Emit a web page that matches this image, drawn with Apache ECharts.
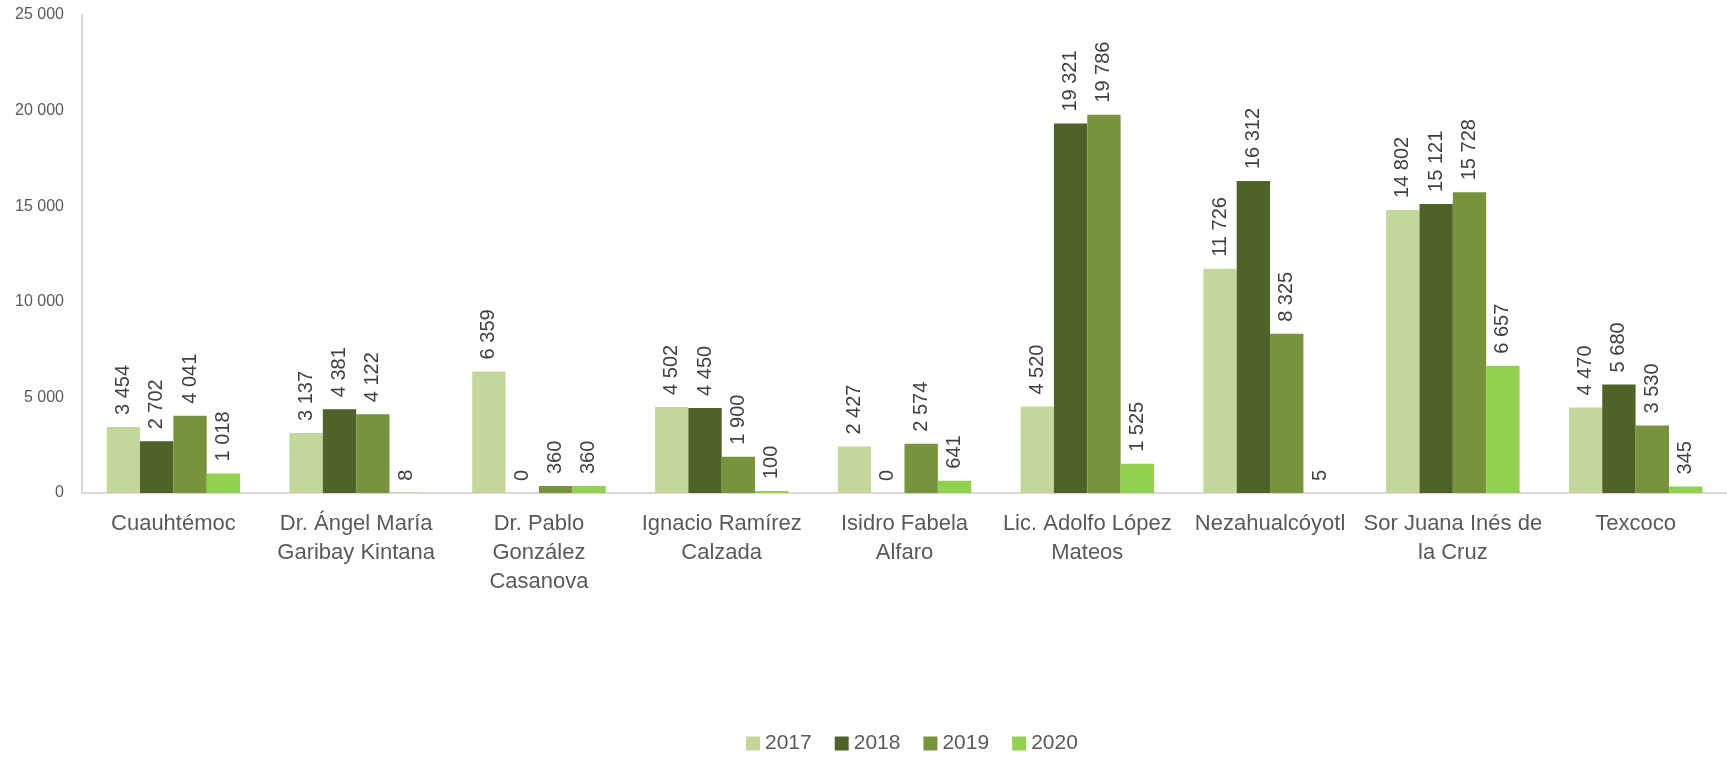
<!DOCTYPE html>
<html>
<head>
<meta charset="utf-8">
<script src="https://cdn.jsdelivr.net/npm/echarts@6/dist/echarts.min.js"></script>
<style>
  html, body { margin: 0; padding: 0; background: #fff; }
  #BarChart { width: 1727px; height: 765px; }
</style>
</head>
<body>
<div id="BarChart"></div>
<script>
// categorías (los saltos de línea son los del gráfico original)
const categories = [
  'Cuauhtémoc',
  'Dr. Ángel María\nGaribay Kintana',
  'Dr. Pablo\nGonzález\nCasanova',
  'Ignacio Ramírez\nCalzada',
  'Isidro Fabela\nAlfaro',
  'Lic. Adolfo López\nMateos',
  'Nezahualcóyotl',
  'Sor Juana Inés de\nla Cruz',
  'Texcoco'
]
const years = ['2017', '2018', '2019', '2020']
const data2017 = [3454, 3137, 6359, 4502, 2427, 4520, 11726, 14802, 4470]
const data2018 = [2702, 4381, 0, 4450, 0, 19321, 16312, 15121, 5680]
const data2019 = [4041, 4122, 360, 1900, 2574, 19786, 8325, 15728, 3530]
const data2020 = [1018, 8, 360, 100, 641, 1525, 5, 6657, 345]
const yTicks = { min: 0, max: 25000, interval: 5000 }

const colors = ['#C4D79B', '#4F6228', '#77933C', '#92D050']
const textColor = '#595959'
const fontFamily = 'Liberation Sans, Arial, sans-serif'

// 25000 -> "25 000"
function fmt(v) {
  return String(v).replace(/\B(?=(\d{3})+(?!\d))/g, ' ')
}

function makeSeries(name, values, color) {
  return {
    name: name,
    type: 'bar',
    data: values,
    barGap: 0,
    barCategoryGap: '27%',
    itemStyle: { color: color },
    label: {
      show: true,
      position: 'top',
      rotate: 90,
      align: 'left',
      verticalAlign: 'middle',
      distance: 12,
      fontFamily: fontFamily,
      fontSize: 20,
      color: '#404040',
      formatter: function (p) { return fmt(p.value) }
    }
  }
}

let myChart = echarts.init(document.getElementById('BarChart'), null, { renderer: 'canvas' })
let option = {
  animation: false,
  color: colors,
  grid: {
    left: 82,
    right: 0,
    top: 15,
    bottom: 272,
    containLabel: false
  },
  legend: {
    data: years,
    left: 741,
    bottom: 6,
    itemWidth: 14,
    itemHeight: 14,
    itemGap: 23,
    icon: 'rect',
    textStyle: { fontFamily: fontFamily, fontSize: 21, color: textColor }
  },
  xAxis: [
    {
      type: 'category',
      data: categories,
      axisTick: { show: false },
      axisLine: { lineStyle: { color: '#D9D9D9', width: 2 } },
      axisLabel: {
        interval: 0,
        margin: 16,
        fontFamily: fontFamily,
        fontSize: 22,
        lineHeight: 29,
        color: textColor
      }
    }
  ],
  yAxis: [
    {
      type: 'value',
      min: yTicks.min,
      max: yTicks.max,
      interval: yTicks.interval,
      splitLine: { show: false },
      axisLine: { show: true, lineStyle: { color: '#D9D9D9', width: 2 } },
      axisTick: { show: false },
      axisLabel: {
        margin: 18,
        fontFamily: fontFamily,
        fontSize: 16,
        color: textColor,
        formatter: function (v) { return fmt(v) }
      }
    }
  ],
  series: [
    makeSeries(years[0], data2017, colors[0]),
    makeSeries(years[1], data2018, colors[1]),
    makeSeries(years[2], data2019, colors[2]),
    makeSeries(years[3], data2020, colors[3])
  ]
}
myChart.setOption(option)
</script>
</body>
</html>
